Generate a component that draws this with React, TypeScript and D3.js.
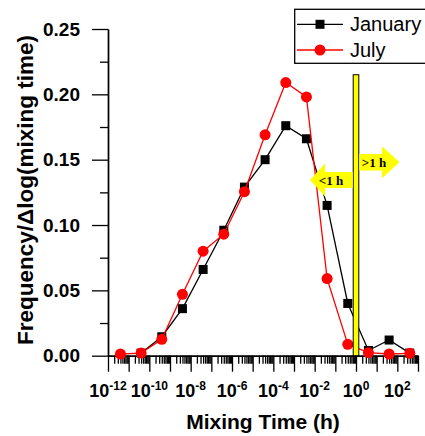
import React, { useEffect, useRef } from 'react';
import * as d3 from 'd3';

// mixing time bins (h) and frequency / dlog(mixing time)
const janTimes = [4e-11, 4e-10, 4e-9, 4e-8, 4e-7, 4e-6, 4e-5, 4e-4, 4e-3, 4e-2, 4e-1, 4e0, 4e1, 4e2];
const janFreq = [0.002, 0.0145, 0.036, 0.066, 0.096, 0.129, 0.150, 0.176, 0.166, 0.115, 0.040, 0.004, 0.012, 0.002];
const julTimes = [4e-12, 4e-11, 4e-10, 4e-9, 4e-8, 4e-7, 4e-6, 4e-5, 4e-4, 4e-3, 4e-2, 4e-1, 4e0, 4e1, 4e2];
const julFreq = [0.0013, 0.002, 0.0125, 0.047, 0.080, 0.093, 0.1255, 0.169, 0.209, 0.198, 0.059, 0.0087, 0.0023, 0.0013, 0.0018];

const seriesNames = ['January', 'July'];
const yTicks = [0, 0.05, 0.1, 0.15, 0.2, 0.25];
const yMinorTicks = [0.025, 0.075, 0.125, 0.175, 0.225];
const xLabelExps = [-12, -10, -8, -6, -4, -2, 0, 2];

// 1 h divider and the two annotation arrows
const cutoffTime = 1;
const cutoffTop = 0.215;
const leftArrowY = 0.1344;
const rightArrowY = 0.148;

const SANS = '"Liberation Sans", Arial, sans-serif';
const SERIF = '"Liberation Serif", "Times New Roman", serif';

const App = () => {
  const ref = useRef<SVGSVGElement>(null);

  useEffect(() => {
    const svg = d3.select(ref.current);
    svg.selectAll('*').remove();

    const x = d3.scaleLog().domain([1e-12, 1e3]).range([108, 418]);
    const y = d3.scaleLinear().domain([0, 0.25]).range([355.7, 29]);

    const decades = d3.range(-12, 4).map(e => Math.pow(10, e));
    const minor: number[] = [];
    d3.range(-12, 3).forEach(e => {
      d3.range(2, 10).forEach(k => minor.push(k * Math.pow(10, e)));
    });

    const styleAxis = (g: any) => {
      g.selectAll('path.domain').attr('stroke', '#000').attr('stroke-width', 1.4);
      g.selectAll('line').attr('stroke', '#000').attr('stroke-width', 1.3);
      g.selectAll('text').remove();
    };

    // x axis
    svg.append('g')
      .attr('transform', `translate(0,${y(0)})`)
      .call(d3.axisBottom(x).tickValues(minor).tickSize(8).tickSizeOuter(0).tickFormat(() => ''))
      .call(styleAxis);
    svg.append('g')
      .attr('transform', `translate(0,${y(0)})`)
      .call(d3.axisBottom(x).tickValues(decades).tickSize(16).tickSizeOuter(0).tickFormat(() => ''))
      .call(styleAxis);

    // y axis
    svg.append('g')
      .attr('transform', `translate(${x(1e-12)},0)`)
      .call(d3.axisLeft(y).tickValues(yMinorTicks).tickSize(8).tickSizeOuter(0).tickFormat(() => ''))
      .call(styleAxis);
    svg.append('g')
      .attr('transform', `translate(${x(1e-12)},0)`)
      .call(d3.axisLeft(y).tickValues(yTicks).tickSize(16).tickSizeOuter(0).tickFormat(() => ''))
      .call(styleAxis);

    // y tick labels
    svg.selectAll('.ylab')
      .data(yTicks)
      .enter().append('text')
      .attr('x', 80)
      .attr('y', d => y(d) + 6.5)
      .attr('text-anchor', 'end')
      .attr('font-family', SANS)
      .attr('font-weight', 'bold')
      .attr('font-size', 19)
      .text(d => d3.format('.2f')(d));

    // x tick labels 10^n
    xLabelExps.forEach(e => {
      const t = svg.append('text')
        .attr('x', x(Math.pow(10, e)))
        .attr('y', 397)
        .attr('text-anchor', 'middle')
        .attr('font-family', SANS)
        .attr('font-weight', 'bold')
        .attr('font-size', 18);
      t.append('tspan').text('10');
      t.append('tspan').attr('dy', -7).attr('font-size', 12).text(String(e));
    });

    // axis titles
    svg.append('text')
      .attr('x', 263)
      .attr('y', 429)
      .attr('text-anchor', 'middle')
      .attr('font-family', SANS)
      .attr('font-weight', 'bold')
      .attr('font-size', 21)
      .text('Mixing Time (h)');

    svg.append('text')
      .attr('transform', `translate(33,${(32 + 348) / 2}) rotate(-90)`)
      .attr('text-anchor', 'middle')
      .attr('font-family', SANS)
      .attr('font-weight', 'bold')
      .attr('font-size', 22.5)
      .text('Frequency/\u0394log(mixing time)');

    const line = d3.line<[number, number]>()
      .x(d => x(d[0]))
      .y(d => y(d[1]));

    const jan: [number, number][] = janTimes.map((t, i) => [t, janFreq[i]]);
    const jul: [number, number][] = julTimes.map((t, i) => [t, julFreq[i]]);

    // January
    svg.append('path')
      .datum(jan)
      .attr('fill', 'none')
      .attr('stroke', '#000')
      .attr('stroke-width', 1.3)
      .attr('d', line);
    svg.selectAll('.sq')
      .data(jan)
      .enter().append('rect')
      .attr('x', d => x(d[0]) - 4.5)
      .attr('y', d => y(d[1]) - 4.5)
      .attr('width', 9)
      .attr('height', 9)
      .attr('fill', '#000');

    // July
    svg.append('path')
      .datum(jul)
      .attr('fill', 'none')
      .attr('stroke', '#ff0000')
      .attr('stroke-width', 1.3)
      .attr('d', line);
    svg.selectAll('.dot')
      .data(jul)
      .enter().append('circle')
      .attr('cx', d => x(d[0]))
      .attr('cy', d => y(d[1]))
      .attr('r', 5.5)
      .attr('fill', '#ff0000');

    // 1 h divider bar
    const bx = x(cutoffTime);
    svg.append('rect')
      .attr('x', bx - 2.8)
      .attr('y', y(cutoffTop))
      .attr('width', 5.6)
      .attr('height', y(0) - y(cutoffTop))
      .attr('fill', '#ffff00')
      .attr('stroke', '#000')
      .attr('stroke-width', 1);

    // arrows
    const ly = y(leftArrowY);
    svg.append('polygon')
      .attr('points', [
        [bx - 46, ly], [bx - 31, ly - 16.5], [bx - 31, ly - 8], [bx - 3.3, ly - 8],
        [bx - 3.3, ly + 8], [bx - 31, ly + 8], [bx - 31, ly + 16.5]
      ].map(p => p.join(',')).join(' '))
      .attr('fill', '#ffff00');
    svg.append('text')
      .attr('x', bx - 25)
      .attr('y', ly + 4.5)
      .attr('text-anchor', 'middle')
      .attr('font-family', SERIF)
      .attr('font-weight', 'bold')
      .attr('font-size', 13)
      .text('<1 h');

    const ry = y(rightArrowY);
    svg.append('polygon')
      .attr('points', [
        [bx + 3.3, ry - 8.3], [bx + 26, ry - 8.3], [bx + 26, ry - 16], [bx + 43.5, ry],
        [bx + 26, ry + 16], [bx + 26, ry + 8.3], [bx + 3.3, ry + 8.3]
      ].map(p => p.join(',')).join(' '))
      .attr('fill', '#ffff00');
    svg.append('text')
      .attr('x', bx + 18)
      .attr('y', ry + 4.5)
      .attr('text-anchor', 'middle')
      .attr('font-family', SERIF)
      .attr('font-weight', 'bold')
      .attr('font-size', 13)
      .text('>1 h');

    // legend
    const lg = svg.append('g');
    lg.append('rect')
      .attr('x', 294.7)
      .attr('y', 9.3)
      .attr('width', 150)
      .attr('height', 54)
      .attr('fill', '#fff')
      .attr('stroke', '#000')
      .attr('stroke-width', 1.3);
    const colors = ['#000', '#ff0000'];
    seriesNames.forEach((name, i) => {
      const ly2 = 24.3 + i * 25.7;
      lg.append('line')
        .attr('x1', 297).attr('x2', 343)
        .attr('y1', ly2).attr('y2', ly2)
        .attr('stroke', colors[i])
        .attr('stroke-width', 1.3);
      if (i === 0) {
        lg.append('rect')
          .attr('x', 320 - 4.5).attr('y', ly2 - 4.5)
          .attr('width', 9).attr('height', 9)
          .attr('fill', colors[i]);
      } else {
        lg.append('circle')
          .attr('cx', 320).attr('cy', ly2)
          .attr('r', 5.5)
          .attr('fill', colors[i]);
      }
      lg.append('text')
        .attr('x', 350)
        .attr('y', ly2 + 7)
        .attr('font-family', SANS)
        .attr('font-size', 20)
        .text(name);
    });
  }, []);

  return (
    <svg
      ref={ref}
      width="425"
      height="436"
      style={{ position: 'absolute', left: 0, top: 0, background: '#fff' }}
    ></svg>
  );
};

export default App;
